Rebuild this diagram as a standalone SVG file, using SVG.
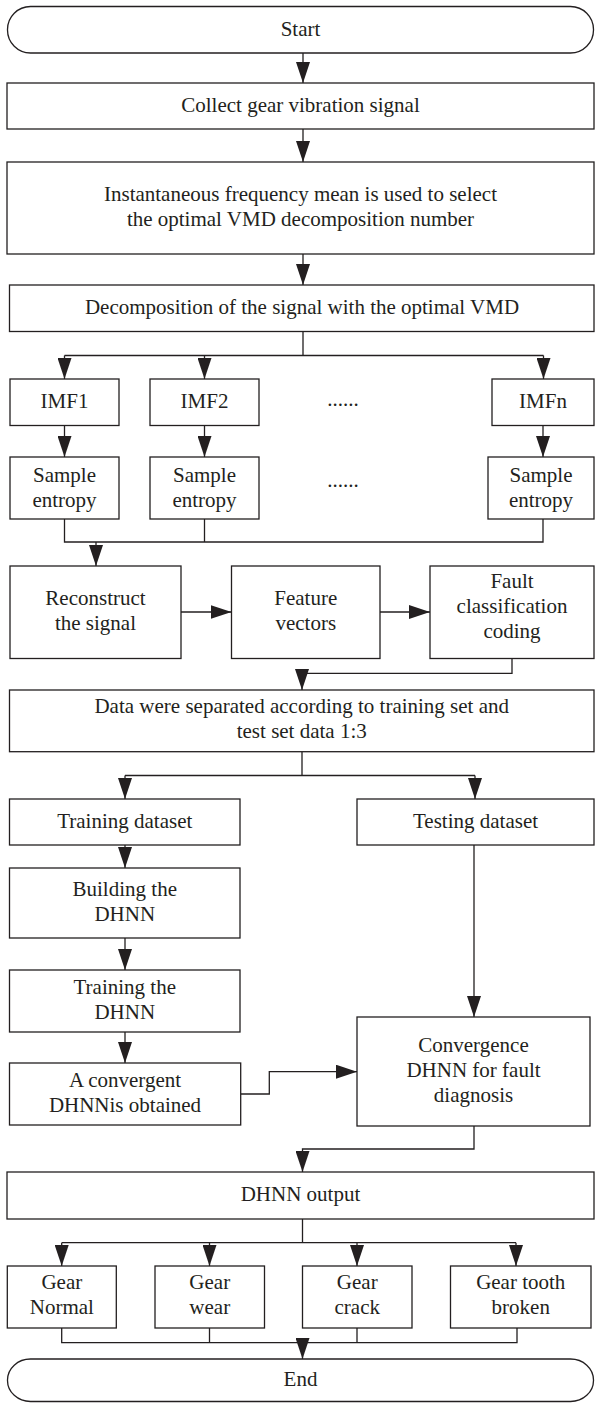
<svg xmlns="http://www.w3.org/2000/svg" width="595" height="1403" viewBox="0 0 595 1403">
<style>
.b{fill:#fff;stroke:#231f20;stroke-width:1.3}
.t{font-family:"Liberation Serif","Times New Roman",serif;font-size:21px;fill:#231f20;text-anchor:middle}
.c{fill:none;stroke:#231f20;stroke-width:1.3}
</style>
<defs>
<marker id="a" markerUnits="userSpaceOnUse" markerWidth="21" markerHeight="14" refX="21" refY="7" orient="auto">
<path d="M0,0 L21,7 L0,14 z" fill="#231f20"/>
</marker>
</defs>
<rect width="595" height="1403" fill="#fff"/>
<g id="connectors">
<path class="c" d="M303,53 V83" marker-end="url(#a)"/>
<path class="c" d="M303,129 V162" marker-end="url(#a)"/>
<path class="c" d="M303,254 V285" marker-end="url(#a)"/>
<path class="c" d="M303,331.5 V355.5 M64.5,355.5 H543.5"/>
<path class="c" d="M64.5,355.5 V379" marker-end="url(#a)"/>
<path class="c" d="M204.5,355.5 V379" marker-end="url(#a)"/>
<path class="c" d="M543.5,355.5 V379" marker-end="url(#a)"/>
<path class="c" d="M64.5,425.5 V457" marker-end="url(#a)"/>
<path class="c" d="M204.5,425.5 V457" marker-end="url(#a)"/>
<path class="c" d="M543,425.5 V457" marker-end="url(#a)"/>
<path class="c" d="M64.5,519 V542 H543 V519 M204.5,519 V542"/>
<path class="c" d="M96,542 V566" marker-end="url(#a)"/>
<path class="c" d="M181,612 H231.5" marker-end="url(#a)"/>
<path class="c" d="M380,612 H430" marker-end="url(#a)"/>
<path class="c" d="M512,658.5 V673.3 H302 V690" marker-end="url(#a)"/>
<path class="c" d="M302,751.7 V775.5 M125,775.5 H475"/>
<path class="c" d="M125,775.5 V799" marker-end="url(#a)"/>
<path class="c" d="M475,775.5 V799" marker-end="url(#a)"/>
<path class="c" d="M125,845 V868" marker-end="url(#a)"/>
<path class="c" d="M125,938 V970" marker-end="url(#a)"/>
<path class="c" d="M125,1032 V1063" marker-end="url(#a)"/>
<path class="c" d="M474,845 V1017" marker-end="url(#a)"/>
<path class="c" d="M240.7,1094 H269.3 V1071.7 H357" marker-end="url(#a)"/>
<path class="c" d="M474,1126 V1149 H302.5 V1172" marker-end="url(#a)"/>
<path class="c" d="M302.5,1219 V1242.7 M61.7,1242.7 H516"/>
<path class="c" d="M61.7,1242.7 V1266" marker-end="url(#a)"/>
<path class="c" d="M209.5,1242.7 V1266" marker-end="url(#a)"/>
<path class="c" d="M357,1242.7 V1266" marker-end="url(#a)"/>
<path class="c" d="M516,1242.7 V1266" marker-end="url(#a)"/>
<path class="c" d="M61.7,1328 V1342.7 H517 V1328 M209.5,1328 V1342.7 M357,1328 V1342.7"/>
<path class="c" d="M302.5,1342.7 V1359" marker-end="url(#a)"/>
</g>
<g id="start"><rect class="b" x="7.5" y="6.5" width="586" height="46.5" rx="23" ry="23"/><text class="t" x="300.5" y="35.5">Start</text></g>
<g id="collect"><rect class="b" x="7" y="83" width="587" height="46"/><text class="t" x="300.5" y="111.5">Collect gear vibration signal</text></g>
<g id="imfmean"><rect class="b" x="7" y="162" width="587" height="92"/><text class="t" x="300.5" y="200.5">Instantaneous frequency mean is used to select</text><text class="t" x="300.5" y="225.5">the optimal VMD decomposition number</text></g>
<g id="decomp"><rect class="b" x="9.5" y="285" width="584.5" height="46.5"/><text class="t" x="302" y="313.5">Decomposition of the signal with the optimal VMD</text></g>
<g id="imf1"><rect class="b" x="10" y="379" width="109" height="46.5"/><text class="t" x="64.5" y="408">IMF1</text></g>
<g id="imf2"><rect class="b" x="150" y="379" width="109" height="46.5"/><text class="t" x="204.5" y="408">IMF2</text></g>
<g id="dots1"><text class="t" x="343" y="406">......</text></g>
<g id="imfn"><rect class="b" x="492" y="379" width="102" height="46.5"/><text class="t" x="543" y="408">IMFn</text></g>
<g id="se1"><rect class="b" x="10" y="457" width="109" height="62"/><text class="t" x="64.5" y="481.5">Sample</text><text class="t" x="64.5" y="506.5">entropy</text></g>
<g id="se2"><rect class="b" x="150" y="457" width="109" height="62"/><text class="t" x="204.5" y="481.5">Sample</text><text class="t" x="204.5" y="506.5">entropy</text></g>
<g id="dots2"><text class="t" x="343" y="487">......</text></g>
<g id="sen"><rect class="b" x="488" y="457" width="106" height="62"/><text class="t" x="541" y="481.5">Sample</text><text class="t" x="541" y="506.5">entropy</text></g>
<g id="reconstruct"><rect class="b" x="10" y="566" width="171" height="92.5"/><text class="t" x="95.5" y="605">Reconstruct</text><text class="t" x="95.5" y="630">the signal</text></g>
<g id="feature"><rect class="b" x="231.5" y="566" width="148.5" height="92.5"/><text class="t" x="305.75" y="605">Feature</text><text class="t" x="305.75" y="630">vectors</text></g>
<g id="fault"><rect class="b" x="430" y="566" width="164" height="92.5"/><text class="t" x="512" y="588">Fault</text><text class="t" x="512" y="613">classification</text><text class="t" x="512" y="638">coding</text></g>
<g id="data"><rect class="b" x="9.5" y="690" width="584.5" height="61.7"/><text class="t" x="301.75" y="712.5">Data were separated according to training set and</text><text class="t" x="301.75" y="737.5">test set data 1:3</text></g>
<g id="training"><rect class="b" x="9.5" y="799" width="230.5" height="46"/><text class="t" x="124.75" y="827.5">Training dataset</text></g>
<g id="testing"><rect class="b" x="357" y="799" width="237" height="46"/><text class="t" x="475.5" y="827.5">Testing dataset</text></g>
<g id="building"><rect class="b" x="9.5" y="868" width="230.5" height="70"/><text class="t" x="124.75" y="896">Building the</text><text class="t" x="124.75" y="921">DHNN</text></g>
<g id="trainthe"><rect class="b" x="9.5" y="970" width="230.5" height="62"/><text class="t" x="124.75" y="993.5">Training the</text><text class="t" x="124.75" y="1018.5">DHNN</text></g>
<g id="convergent"><rect class="b" x="9.5" y="1063" width="231.2" height="62"/><text class="t" x="125" y="1086.5">A convergent</text><text class="t" x="125" y="1111.5">DHNNis obtained</text></g>
<g id="convergence"><rect class="b" x="357" y="1017" width="233" height="109"/><text class="t" x="473.5" y="1052">Convergence</text><text class="t" x="473.5" y="1077">DHNN for fault</text><text class="t" x="473.5" y="1102">diagnosis</text></g>
<g id="output"><rect class="b" x="7" y="1172" width="587" height="47"/><text class="t" x="300.5" y="1201">DHNN output</text></g>
<g id="normal"><rect class="b" x="7.3" y="1266" width="109" height="62"/><text class="t" x="61.8" y="1288.5">Gear</text><text class="t" x="61.8" y="1314">Normal</text></g>
<g id="wear"><rect class="b" x="155" y="1266" width="109.5" height="62"/><text class="t" x="209.75" y="1288.5">Gear</text><text class="t" x="209.75" y="1314">wear</text></g>
<g id="crack"><rect class="b" x="302.5" y="1266" width="109.5" height="62"/><text class="t" x="357.25" y="1288.5">Gear</text><text class="t" x="357.25" y="1314">crack</text></g>
<g id="broken"><rect class="b" x="450.5" y="1266" width="140.5" height="62"/><text class="t" x="520.75" y="1288.5">Gear tooth</text><text class="t" x="520.75" y="1314">broken</text></g>
<g id="end"><rect class="b" x="7.5" y="1359" width="586" height="42.5" rx="23" ry="21"/><text class="t" x="300.5" y="1386">End</text></g>
</svg>
